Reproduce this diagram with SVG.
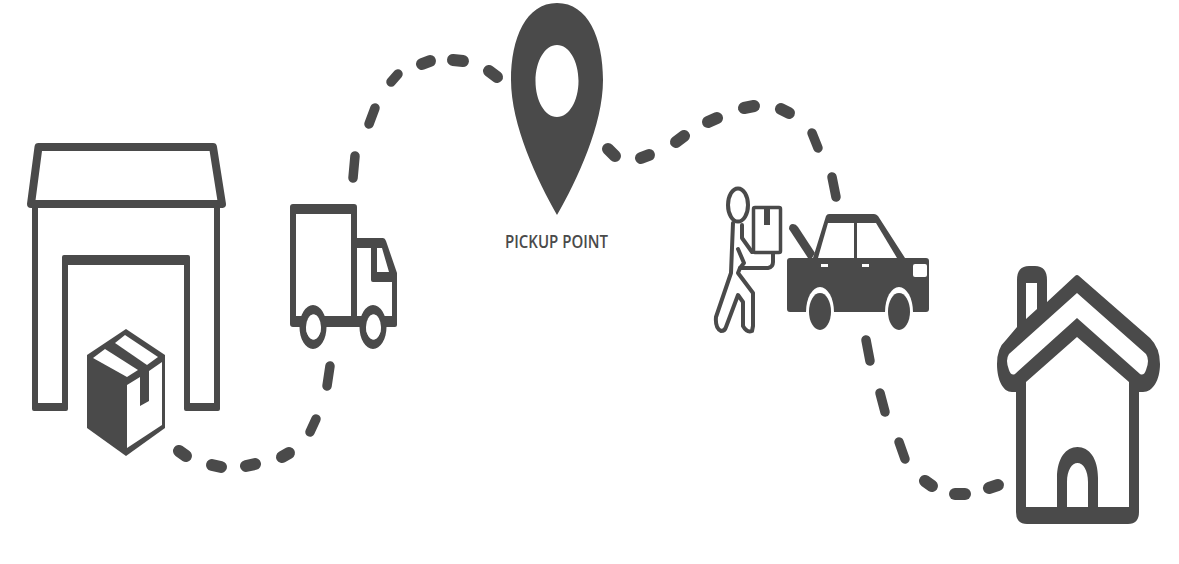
<svg xmlns="http://www.w3.org/2000/svg" width="1179" height="564" viewBox="0 0 1179 564">
<style>
.d{fill:#4a4a4a}
.w{fill:#fff}
.s{fill:none;stroke:#4a4a4a;stroke-linejoin:round;stroke-linecap:round}
.c line{stroke:#4a4a4a;stroke-linecap:round;stroke-width:12}
.c line.v{stroke-width:9.500}
text{font-family:"Open Sans","Liberation Sans",sans-serif;font-size:18px;font-weight:600;fill:#4a4a4a}
</style>
<rect width="1179" height="564" fill="#fff"/>
<g id="connectors" class="c">
<line x1="179" y1="451" x2="186" y2="456"/>
<line x1="212" y1="465" x2="221" y2="467"/>
<line x1="246" y1="466" x2="255" y2="464"/>
<line x1="282" y1="457" x2="289" y2="453"/>
<line class="v" x1="310" y1="432" x2="316" y2="419"/>
<line class="v" x1="327" y1="386" x2="330" y2="366"/>
<line class="v" x1="353" y1="178" x2="355" y2="156"/>
<line class="v" x1="369" y1="124" x2="375" y2="108"/>
<line class="v" x1="391" y1="82" x2="398" y2="74"/>
<line x1="422" y1="64" x2="430" y2="61"/>
<line x1="453" y1="60" x2="463" y2="61"/>
<line x1="489" y1="71" x2="497" y2="77"/>
<line x1="608" y1="149" x2="615" y2="156"/>
<line x1="641" y1="158" x2="649" y2="155"/>
<line x1="676" y1="142" x2="684" y2="136"/>
<line x1="708" y1="122" x2="717" y2="118"/>
<line x1="744" y1="108" x2="754" y2="106"/>
<line x1="781" y1="109" x2="789" y2="113"/>
<line class="v" x1="812" y1="133" x2="818" y2="148"/>
<line class="v" x1="832" y1="177" x2="836" y2="197"/>
<line class="v" x1="866" y1="340" x2="870" y2="361"/>
<line class="v" x1="880" y1="393" x2="885" y2="412"/>
<line class="v" x1="899" y1="442" x2="905" y2="459"/>
<line x1="925" y1="481" x2="932" y2="486"/>
<line x1="955" y1="494" x2="965" y2="494"/>
<line x1="989" y1="488" x2="998" y2="485"/>
</g>
<g id="warehouse">
<path class="s" stroke-width="8" d="M38.500,147H213L222,204H31Z"/>
<path class="d" fill-rule="evenodd" d="M32,204H38V403H62V257Q62,255 64,255H188Q190,255 190,257V403H214V204H220V409Q220,411 218,411H186Q184,411 184,409V265H68V409Q68,411 66,411H34Q32,411 32,409Z"/>
</g>
<g id="package">
<path class="w" d="M87,356L126,329L165,356V428L126,456L87,428Z"/>
<path class="d" d="M126,329L165,355V428L126,456L87,428V355Z"/>
<path class="w" d="M93,358L105,349L138,370L127,377Z"/>
<path class="w" d="M115,343L125,335L158,357L147,365Z"/>
<path class="w" d="M127,385L140,377V406L149,401V371L162,362V425L127,448Z"/>
</g>
<g id="truck">
<path class="d" fill-rule="evenodd" d="M290,207Q290,204 293,204H354Q357,204 357,207V238H383Q385,238 386,241L397,273V325Q397,327 395,327H293Q290,327 290,324ZM296,214V316H351V214ZM357,248V316H392V282H373Q371,282 371,280V248ZM377,248V272H389L382,248Z"/>
<path id="wheel-a" class="d" fill-rule="evenodd" d="M299.500,327a13.500,22 0 1,0 27,0a13.500,22 0 1,0 -27,0ZM306,327a7.500,12.500 0 1,1 15,0a7.500,12.500 0 1,1 -15,0Z"/>
<ellipse class="w" cx="313.500" cy="327" rx="7.500" ry="12.500"/>
<path id="wheel-b" class="d" fill-rule="evenodd" d="M359.500,327a13.500,22 0 1,0 27,0a13.500,22 0 1,0 -27,0ZM366,327a7.500,12.500 0 1,1 15,0a7.500,12.500 0 1,1 -15,0Z"/>
<ellipse class="w" cx="373.500" cy="327" rx="7.500" ry="12.500"/>
</g>
<g id="pickup-point">
<path class="d" fill-rule="evenodd" d="M557,3C526,3 511,38 511,80C511,125 537,180 557,215C577,180 603,125 603,80C603,38 588,3 557,3ZM557,45C569,45 578.500,61 578.500,81C578.500,101 569,117 557,117C545,117 535.500,101 535.500,81C535.500,61 545,45 557,45Z"/>
<text x="505" y="248" textLength="103" lengthAdjust="spacingAndGlyphs">PICKUP POINT</text>
</g>
<g id="person">
<ellipse class="s" stroke-width="4" cx="738" cy="205" rx="10" ry="16.500"/>
<rect x="753.500" y="207.500" width="27" height="45" rx="1.500" fill="#fff" stroke="#4a4a4a" stroke-width="3.500"/>
<rect class="d" x="764" y="208" width="6" height="17"/>
<path class="s" stroke-width="4" d="M733,223L731,273L716,317Q715,328 721,331Q725,331 726,327L738,295L743,302V326Q747,333 752,331L753,326V293L738,273L740,268H768Q773,267 773,262V253"/>
<path class="s" stroke-width="4" d="M742,225V238L752,252M738,249L744,263L740,268"/>
</g>
<g id="car">
<path class="d" d="M790,258H813L826,216Q827,214 829,214H874Q876,214 878,216L905,258H926Q929,258 929,261V309Q929,312 926,312H790Q787,312 787,309V261Q787,258 790,258Z"/>
<path class="d" d="M789,229Q789,224 793,224Q796,224 798,227L815,253L812,258H808Z"/>
<path class="w" d="M828,223H854V258H818Z"/>
<path class="w" d="M857,223H876L897,258H857Z"/>
<rect class="w" x="821" y="264" width="7" height="3"/>
<rect class="w" x="862" y="264" width="7" height="3"/>
<rect class="w" x="913" y="264" width="14" height="13" rx="2"/>
<ellipse class="w" cx="820" cy="312" rx="14" ry="25"/>
<ellipse class="w" cx="899" cy="312" rx="14" ry="25"/>
<ellipse class="d" cx="820" cy="311.500" rx="11" ry="18.500"/>
<ellipse class="d" cx="899" cy="311.500" rx="11" ry="18.500"/>
</g>
<g id="house">
<path class="d" fill-rule="evenodd" d="M1017,327V280Q1017,266 1029,266H1035Q1047,266 1047,280V302L1075,276Q1077,274 1079,276L1150,338Q1160,348 1160,364C1160,380 1153,392 1143,392H1139V512Q1139,524 1128,524H1027Q1016,524 1016,512V392H1012C1003,392 997,380 997,364Q997,348 1006,340ZM1026,283V319L1037,309V283ZM1077,293L1009,354Q1005,360 1009,370Q1011,376 1015,374L1077,318L1140,374Q1144,376 1146,370Q1150,360 1146,354ZM1077,337L1026,382V507H1057V478C1057,458 1066,447 1077.500,447C1089,447 1098,458 1098,478V507H1129V382ZM1077.500,463C1072,463 1067,470 1067,482V507H1088V482C1088,470 1083,463 1077.500,463Z"/>
</g>
</svg>
